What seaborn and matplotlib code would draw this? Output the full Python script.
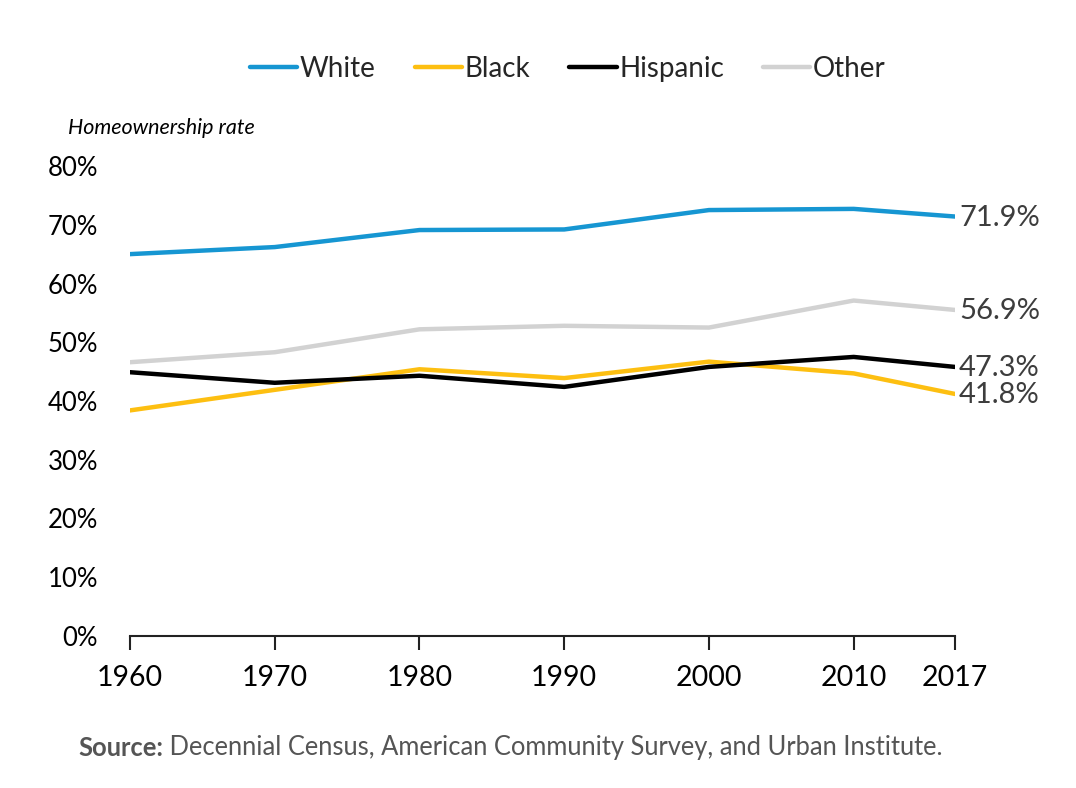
import matplotlib
matplotlib.use("Agg")
import matplotlib.pyplot as plt
import seaborn as sns
import pandas as pd
from matplotlib.ticker import FuncFormatter

years = [1960, 1970, 1980, 1990, 2000, 2010, 2017]
white = [65.0, 66.2, 69.1, 69.2, 72.5, 72.7, 71.4]
black = [38.4, 41.9, 45.4, 43.9, 46.7, 44.7, 41.2]
hispanic = [44.9, 43.1, 44.3, 42.4, 45.8, 47.5, 45.8]
other = [46.6, 48.3, 52.2, 52.8, 52.5, 57.1, 55.5]
groups = ["White", "Black", "Hispanic", "Other"]
end_labels = ["71.9%", "41.8%", "47.3%", "56.9%"]
colors = ["#1696d2", "#fdbf11", "#000000", "#d2d2d2"]
yticks = [0, 10, 20, 30, 40, 50, 60, 70, 80]

series = {"White": white, "Black": black, "Hispanic": hispanic, "Other": other}
rows = []
for g in groups:
    for y, v in zip(years, series[g]):
        rows.append({"year": y, "rate": v, "group": g})
df = pd.DataFrame(rows)

sns.set_theme(style="white")
plt.rcParams["font.family"] = ["Lato", "DejaVu Sans"]

fig = plt.figure(figsize=(10.76, 7.88), dpi=100)
ax = fig.add_axes([130/1076, 1-636/788, (955-130)/1076, (636-166)/788])

sns.lineplot(data=df, x="year", y="rate", hue="group", hue_order=groups,
             palette=dict(zip(groups, colors)), linewidth=3.2, ax=ax, legend=True)

ax.set_xlim(years[0], years[-1])
ax.set_ylim(0, 80)
ax.set_yticks(yticks)
ax.yaxis.set_major_formatter(FuncFormatter(lambda v, p: f"{int(v)}%"))
ax.set_xticks(years)
ax.set_xticklabels([str(y) for y in years])
ax.set_xlabel("")
ax.set_ylabel("")
for s in ["left", "top", "right"]:
    ax.spines[s].set_visible(False)
ax.spines["bottom"].set_color("#222222")
ax.spines["bottom"].set_linewidth(1.5)
ax.tick_params(axis="x", bottom=True, length=10, width=1.5, color="#222222",
               labelsize=20.5, pad=11, labelcolor="#000000")
ax.tick_params(axis="y", left=False, labelsize=18.5, pad=17, labelcolor="#000000")

for g, lab, c in zip(groups, end_labels, colors):
    ax.annotate(lab, xy=(years[-1], series[g][-1]), xytext=(3, -1),
                textcoords="offset points", ha="left", va="center",
                fontsize=21, color="#3d3d3d", annotation_clip=False)

leg = ax.legend(loc="center", bbox_to_anchor=(568/1076, 1-69/788),
                bbox_transform=fig.transFigure, ncol=4, frameon=False,
                fontsize=20, handlelength=1.7, handletextpad=0.1,
                columnspacing=1.4)
for line in leg.get_lines():
    line.set_linewidth(3.2)

fig.text(68/1076, 1-128/788, "Homeownership rate", fontsize=15.5, style="italic",
         ha="left", va="center", color="#000000")

t = fig.text(78/1076, 1-748/788, "Source:", fontsize=18.4, fontweight="bold",
             ha="left", va="center", color="#555555")
ax.annotate(" Decennial Census, American Community Survey, and Urban Institute.",
            xy=(1, 0.5), xycoords=t, ha="left", va="center", fontsize=18.4,
            color="#555555")

fig.savefig("out.png", dpi=100)
